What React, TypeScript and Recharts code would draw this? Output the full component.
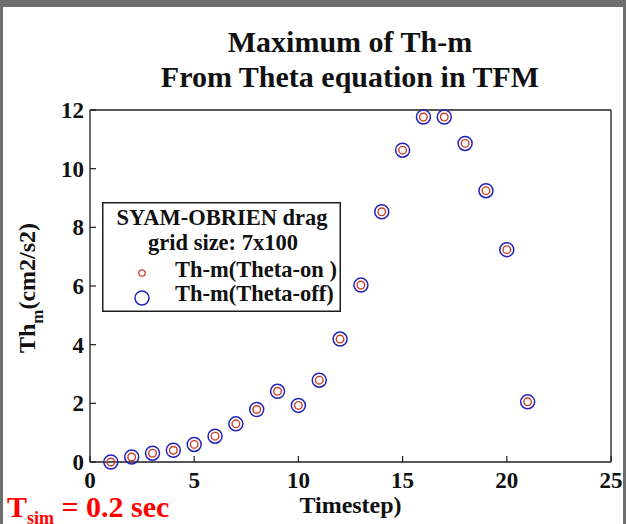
import React from "react";
import { ScatterChart, Scatter, XAxis, YAxis, Legend } from "recharts";

// Max of Th-m per timestep
const timesteps = [1, 2, 3, 4, 5, 6, 7, 8, 9, 10, 11, 12, 13, 14, 15, 16, 17, 18, 19, 20, 21];
const thetaOn = [0, 0.17, 0.3, 0.4, 0.6, 0.88, 1.3, 1.79, 2.41, 1.93, 2.79, 4.19, 6.03, 8.53, 10.63, 11.76, 11.76, 10.86, 9.25, 7.24, 2.05];
const thetaOff = [0, 0.17, 0.3, 0.4, 0.6, 0.88, 1.3, 1.79, 2.41, 1.93, 2.79, 4.19, 6.03, 8.53, 10.63, 11.76, 11.76, 10.86, 9.25, 7.24, 2.05];
const xTicks = [0, 5, 10, 15, 20, 25];
const yTicks = [0, 2, 4, 6, 8, 10, 12];

const onData = timesteps.map((t, i) => ({ t, v: thetaOn[i] }));
const offData = timesteps.map((t, i) => ({ t, v: thetaOff[i] }));

const FONT = "'Liberation Serif', 'Times New Roman', serif";
const AXIS = "#1e1e1e";
const BLUE = "#2323b8";
const RED = "#c8402c";
const FRAME = "#6e6e6e";
const TICK_LEN = 6;

const labelStyle = { fontFamily: FONT, fontWeight: 700, fontSize: 23, fill: "#111" };

function BottomTick(props: any) {
  const { x, y, payload } = props;
  return (
    <g>
      <line x1={x} y1={y} x2={x} y2={y - TICK_LEN} stroke={AXIS} strokeWidth={1.2} />
      <text x={x} y={y + 26} textAnchor="middle" style={labelStyle}>
        {payload.value}
      </text>
    </g>
  );
}

function LeftTick(props: any) {
  const { x, y, payload } = props;
  return (
    <g>
      <line x1={x} y1={y} x2={x + TICK_LEN} y2={y} stroke={AXIS} strokeWidth={1.2} />
      <text x={x - 6} y={y + 8} textAnchor="end" style={labelStyle}>
        {payload.value}
      </text>
    </g>
  );
}

// top / right axes only carry inward tick marks (box style)
function TopTick(props: any) {
  const { x, y } = props;
  return <line x1={x} y1={y} x2={x} y2={y + TICK_LEN} stroke={AXIS} strokeWidth={1.2} />;
}

function RightTick(props: any) {
  const { x, y } = props;
  return <line x1={x} y1={y} x2={x - TICK_LEN} y2={y} stroke={AXIS} strokeWidth={1.2} />;
}

const BigCircle = (p: any) => (
  <circle cx={p.cx} cy={p.cy} r={7} fill="none" stroke={BLUE} strokeWidth={1.5} />
);
const SmallCircle = (p: any) => (
  <circle cx={p.cx} cy={p.cy} r={3.8} fill="none" stroke={RED} strokeWidth={1.4} />
);

function LegendBox() {
  const txt = { fontFamily: FONT, fontWeight: 700, fontSize: 22.5, fill: "#111" };
  return (
    <svg width={239} height={110} style={{ display: "block" }}>
      <rect x={0.75} y={0.75} width={237.5} height={108.5} fill="#fff" stroke={AXIS} strokeWidth={1.5} />
      <text x={120} y={23} textAnchor="middle" style={txt}>SYAM-OBRIEN drag</text>
      <text x={121} y={48} textAnchor="middle" style={txt}>grid size: 7x100</text>
      <circle cx={40} cy={71} r={3.2} fill="none" stroke={RED} strokeWidth={1.3} />
      <text x={73} y={75} style={txt}>Th-m(Theta-on )</text>
      <circle cx={40} cy={96} r={7} fill="none" stroke={BLUE} strokeWidth={1.5} />
      <text x={73} y={99} style={txt}>Th-m(Theta-off)</text>
    </svg>
  );
}

const XLabel = (props: any) => {
  const { viewBox } = props;
  return (
    <text x={viewBox.x + viewBox.width / 2} y={viewBox.y + 51} textAnchor="middle" style={{ ...labelStyle, fontSize: 24 }}>
      Timestep)
    </text>
  );
};

const YLabel = (props: any) => {
  const { viewBox } = props;
  const cx = viewBox.x + 35;
  const cy = viewBox.y + viewBox.height / 2 + 2;
  return (
    <text x={cx} y={cy} transform={`rotate(-90, ${cx}, ${cy})`} textAnchor="middle" style={{ ...labelStyle, fontSize: 24 }}>
      Th
      <tspan dy={8} fontSize={17}>m</tspan>
      <tspan dy={-8}>(cm2/s2)</tspan>
    </text>
  );
};

export default function App() {
  return (
    <div style={{ position: "absolute", left: 0, top: 0, width: 626, height: 524, background: "#fff", overflow: "hidden" }}>
      <ScatterChart width={626} height={524} margin={{ top: 109, right: 14, bottom: 0, left: 0 }}>
        <XAxis
          type="number"
          dataKey="t"
          domain={[0, 25]}
          ticks={xTicks}
          height={62}
          tickSize={0}
          tickMargin={0}
          tickLine={false}
          axisLine={{ stroke: AXIS, strokeWidth: 1.3 }}
          tick={BottomTick}
          label={XLabel}
        />
        <XAxis
          xAxisId="top"
          orientation="top"
          type="number"
          domain={[0, 25]}
          ticks={xTicks}
          height={1}
          tickSize={0}
          tickMargin={0}
          tickLine={false}
          axisLine={{ stroke: AXIS, strokeWidth: 1.3 }}
          tick={TopTick}
        />
        <YAxis
          type="number"
          dataKey="v"
          domain={[0, 12]}
          ticks={yTicks}
          width={90}
          tickSize={0}
          tickMargin={0}
          tickLine={false}
          axisLine={{ stroke: AXIS, strokeWidth: 1.3 }}
          tick={LeftTick}
          label={YLabel}
        />
        <YAxis
          yAxisId="right"
          orientation="right"
          type="number"
          domain={[0, 12]}
          ticks={yTicks}
          width={1}
          tickSize={0}
          tickMargin={0}
          tickLine={false}
          axisLine={{ stroke: AXIS, strokeWidth: 1.3 }}
          tick={RightTick}
        />
        <Scatter name="Th-m(Theta-off)" data={offData} shape={BigCircle} isAnimationActive={false} />
        <Scatter name="Th-m(Theta-on )" data={onData} shape={SmallCircle} isAnimationActive={false} />
        <Legend
          layout="vertical"
          align="center"
          verticalAlign="middle"
          content={() => <LegendBox />}
          wrapperStyle={{ left: 102, top: 202, width: 239, height: 110 }}
        />
      </ScatterChart>

      <svg width={626} height={524} style={{ position: "absolute", left: 0, top: 0, pointerEvents: "none" }}>
        <text x={350} y={52} textAnchor="middle" style={{ fontFamily: FONT, fontWeight: 700, fontSize: 30, fill: "#111" }}>
          Maximum of Th-m
        </text>
        <text x={350} y={87} textAnchor="middle" style={{ fontFamily: FONT, fontWeight: 700, fontSize: 30, fill: "#111" }}>
          From Theta equation in TFM
        </text>
        <text x={7} y={517} style={{ fontFamily: FONT, fontWeight: 700, fontSize: 30, fill: "#ff0000" }}>
          T
          <tspan dy={7} fontSize={18}>sim</tspan>
          <tspan dy={-7}> = 0.2 sec</tspan>
        </text>
      </svg>

      {/* grey frame around the slide region */}
      <div style={{ position: "absolute", left: 0, top: 0, width: 626, height: 7, background: FRAME }} />
      <div style={{ position: "absolute", left: 0, top: 0, width: 3, height: 524, background: FRAME }} />
      <div style={{ position: "absolute", left: 623, top: 0, width: 3, height: 524, background: FRAME }} />
    </div>
  );
}
